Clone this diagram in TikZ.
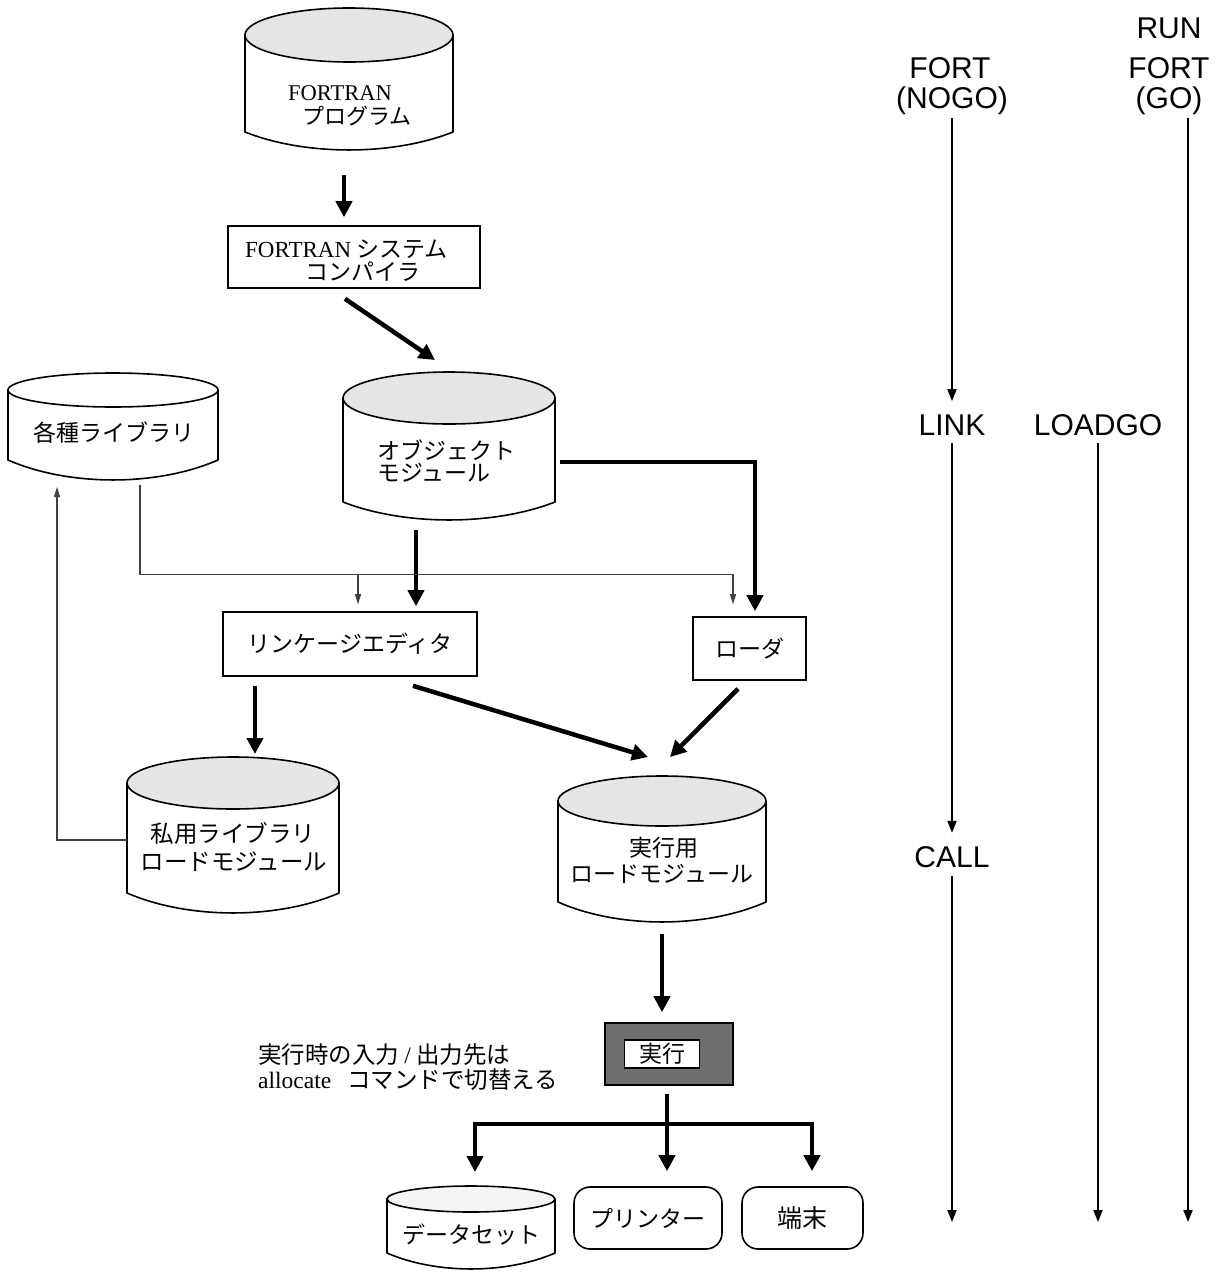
\documentclass[tikz,border=0pt]{standalone}
\usepackage{fontspec}
\setmainfont{Liberation Serif}
\newfontfamily\jpf{Noto Sans CJK JP}
\newfontfamily\arialf{Liberation Sans}
\usetikzlibrary{arrows.meta,calc}

% #1 name, #2 cx, #3 ellipse centre y, #4 half width, #5 ry, #6 side bottom y, #7 wave depth, #8 fill
\newcommand{\cylshape}[8]{%
  \path[draw=black, line width=1.6pt, fill=white, line join=round]
    ({#2-#4},#3) -- ({#2-#4},#6)
    .. controls ({#2-0.42*#4},{#6+1.33*#7}) and ({#2+0.42*#4},{#6+1.33*#7}) .. ({#2+#4},#6)
    -- ({#2+#4},#3) -- cycle;
  \path[draw=black, line width=1.6pt, fill=#8] (#2,#3) ellipse [x radius=#4pt, y radius=#5pt];
  \node[inner sep=0pt, outer sep=0pt, minimum width={2*#4*1pt},
        minimum height={(#6+#7-#3+#5)*1pt}] (#1) at (#2,{(#3-#5+#6+#7)/2}) {};
}

\tikzset{
  jp/.style={font=\jpf\fontsize{23}{27}\selectfont, inner sep=0pt},
  jpm/.style={font=\jpf\fontsize{23.5}{27}\selectfont, inner sep=0pt},
  jps/.style={font=\jpf\fontsize{22}{26}\selectfont, inner sep=0pt},
  boxn/.style={draw, line width=1.6pt, inner sep=0pt},
  big/.style={line width=4.5pt, line join=miter, -{Triangle[width=16pt,length=16pt]}},
  bigline/.style={line width=4.5pt},
  thinarr/.style={line width=1.1pt, draw=black!75, -{Triangle[width=6pt,length=10pt]}},
  rarr/.style={line width=1.8pt, -{Triangle[width=9pt,length=12pt]}},
  rlabel/.style={font=\arialf\fontsize{30}{34}\selectfont, inner sep=0pt, anchor=base},
}

\begin{document}
\begin{tikzpicture}[x=1pt, y=-1pt]
\useasboundingbox (0,0) rectangle (1224,1272);

% ---- cylinders ----
\cylshape{A}{349}{35}{104}{27}{132}{18}{gray!20}
\node[anchor=west, inner sep=0pt, font=\rmfamily\fontsize{22.5}{26}\selectfont] (Atxt1) at (288,93) {FORTRAN};
\node[jps, anchor=west] (Atxt2) at (302,116) {プログラム};

\cylshape{B}{113}{390}{105}{17}{460}{20}{white}
\node[jp] (Btxt) at (114,433) {各種ライブラリ};

\cylshape{C}{449}{398}{106}{26}{502}{18}{gray!20}
\node[jp, anchor=west] (Ctxt1) at (377,450) {オブジェクト};
\node[jp, anchor=west] (Ctxt2) at (377,473) {モジュール};

\cylshape{D}{233}{783}{106}{26}{893}{20}{gray!20}
\node[jpm] (Dtxt1) at (233,833) {私用ライブラリ};
\node[jpm] (Dtxt2) at (234,862) {ロードモジュール};

\cylshape{E}{662}{801}{104}{25}{902}{20}{gray!20}
\node[jp] (Etxt1) at (664,848) {実行用};
\node[jp] (Etxt2) at (662,874) {ロードモジュール};

\cylshape{F}{471}{1199}{84}{13}{1253}{16}{gray!8}
\node[jp] (Ftxt) at (471,1235) {データセット};

% ---- boxes ----
\node[boxn, minimum width=252pt, minimum height=62pt] (comp) at (354,257) {};
\node[jp, anchor=west] (comp1) at (245,249) {{\rmfamily FORTRAN} システム};
\node[jp, anchor=west] (comp2) at (305,272) {コンパイラ};

\node[boxn, jp, minimum width=254pt, minimum height=64pt] (lk) at (350,644) {リンケージエディタ};
\node[boxn, jp, minimum width=113pt, minimum height=63pt] (ld) at (749.5,648.5) {ローダ};

\node[boxn, fill=black!57, minimum width=128pt, minimum height=62pt] (ex) at (669,1054) {};
\node[boxn, jp, fill=white, minimum width=75pt, minimum height=28pt] (exin) at (662,1054) {実行};

\node[jpm, anchor=west] (note1) at (258,1055) {実行時の入力 {\rmfamily /} 出力先は};
\node[jpm, anchor=west] (note2) at (258,1080) {{\rmfamily allocate}\ \ \ コマンドで切替える};

\node[boxn, jp, rounded corners=16pt, minimum width=148pt, minimum height=62pt] (pr) at (648,1218) {プリンター};
\node[boxn, font=\jpf\fontsize{25}{29}\selectfont, rounded corners=16pt, minimum width=121pt, minimum height=62pt] (tm) at (802.5,1218) {端末};

% ---- connectors ----
\draw[big] ([xshift=-5pt,yshift=-25pt]A.south) -- ([xshift=-10pt,yshift=8pt]comp.north);
\draw[big] ([xshift=-9pt,yshift=-10pt]comp.south) -- ([xshift=-14pt,yshift=12pt]C.north);
\draw[big] ([xshift=-33pt,yshift=-10pt]C.south) -- ([xshift=66pt,yshift=5pt]lk.north);
\draw[big] ([xshift=5pt,yshift=-16pt]C.east) -| ([xshift=5.5pt,yshift=5pt]ld.north);

\draw[thinarr] ([xshift=27pt,yshift=-5pt]B.south) |- ([xshift=-16.5pt,yshift=42pt]ld.north) -- ([xshift=-16.5pt,yshift=12pt]ld.north);
\draw[thinarr] ([xshift=8pt,yshift=37pt]lk.north) -- ([xshift=8pt,yshift=7pt]lk.north);

\draw[big] ([xshift=-95pt,yshift=-9pt]lk.south) -- ([xshift=22pt,yshift=3pt]D.north);
\draw[big] ([xshift=63pt,yshift=-9pt]lk.south) -- ([xshift=-14pt,yshift=19pt]E.north);
\draw[big] ([xshift=-11.5pt,yshift=-8pt]ld.south) -- ([xshift=8pt,yshift=19pt]E.north);

\draw[thinarr] ([yshift=-5pt]D.west) -| ([xshift=-56pt,yshift=-7pt]B.south);

\draw[big] ([yshift=-12pt]E.south) -- ([xshift=-7pt,yshift=10pt]ex.north);

\coordinate (split) at ([xshift=-2pt,yshift=-38pt]ex.south);
\draw[bigline] ([xshift=-2pt,yshift=-8pt]ex.south) -- (split);
\draw[big] (split) -| ([xshift=4pt,yshift=14pt]F.north);
\draw[big] (split) -- ([xshift=19pt,yshift=15pt]pr.north);
\draw[big] (split) -| ([xshift=9.5pt,yshift=15pt]tm.north);

% ---- right-hand command columns ----
\node[rlabel] (run) at (1169,38) {RUN};
\node[rlabel] (fort1) at (950,78) {FORT};
\node[rlabel] (nogo) at (952,108) {(NOGO)};
\node[rlabel] (fort2) at (1169,78) {FORT};
\node[rlabel] (go) at (1169,108) {(GO)};
\node[rlabel] (link) at (952,435) {LINK};
\node[rlabel] (loadgo) at (1098,435) {LOADGO};
\node[rlabel] (call) at (952,867) {CALL};

\coordinate (endA) at (952,1222);
\coordinate (endB) at (1098,1222);
\coordinate (endC) at (1188,1222);

\draw[rarr] ([yshift=-4pt]nogo.south) -- ([yshift=13pt]link.north);
\draw[rarr] ([yshift=-8pt]link.south) -- ([yshift=13pt]call.north);
\draw[rarr] ([yshift=-8pt]call.south) -- (endA);
\draw[rarr] ([yshift=-8pt]loadgo.south) -- (endB);
\draw[rarr] ([xshift=19pt,yshift=-4pt]go.south) -- (endC);
\end{tikzpicture}
\end{document}
